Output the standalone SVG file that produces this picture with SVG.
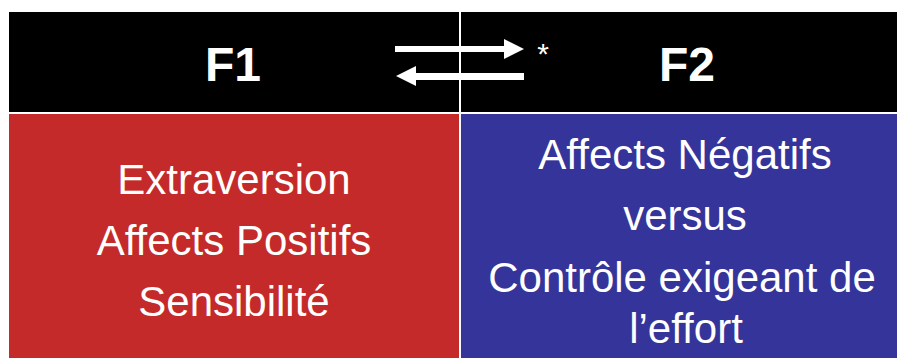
<svg xmlns="http://www.w3.org/2000/svg" width="897" height="358" viewBox="0 0 897 358">
<style>
.t{font-family:"Liberation Sans",Arial,sans-serif;fill:#fff;text-anchor:middle}
.h{font-size:48px;font-weight:bold}
.b{font-size:42px}
</style>
<rect width="897" height="358" fill="#fff"/>
<g id="header">
<rect x="9" y="12" width="888" height="100" fill="#000"/>
<rect x="459" y="12" width="2" height="100" fill="#fff"/>
</g>
<g id="F1">
<text class="t h" x="233" y="81">F1</text>
</g>
<g id="F2">
<text class="t h" x="687" y="81">F2</text>
</g>
<g id="connectors" fill="#fff">
<polygon points="395,46 504,46 504,39 524,49 504,59 504,52 395,52"/>
<polygon points="524,73 416,73 416,66 396,76 416,86 416,80 524,80"/>
<text class="t" x="543" y="64" style="font-size:30px">*</text>
</g>
<g id="box1">
<rect x="9" y="114" width="450" height="244" fill="#c42a29"/>
<text class="t b" x="234" y="194">Extraversion</text>
<text class="t b" x="234" y="255">Affects Positifs</text>
<text class="t b" x="234" y="316">Sensibilité</text>
</g>
<g id="box2">
<rect x="461" y="114" width="436" height="244" fill="#35349a"/>
<text class="t b" x="685" y="169">Affects Négatifs</text>
<text class="t b" x="685" y="230">versus</text>
<text class="t b" x="682" y="292">Contrôle exigeant de</text>
<text class="t b" x="686" y="343">l’effort</text>
</g>
</svg>
